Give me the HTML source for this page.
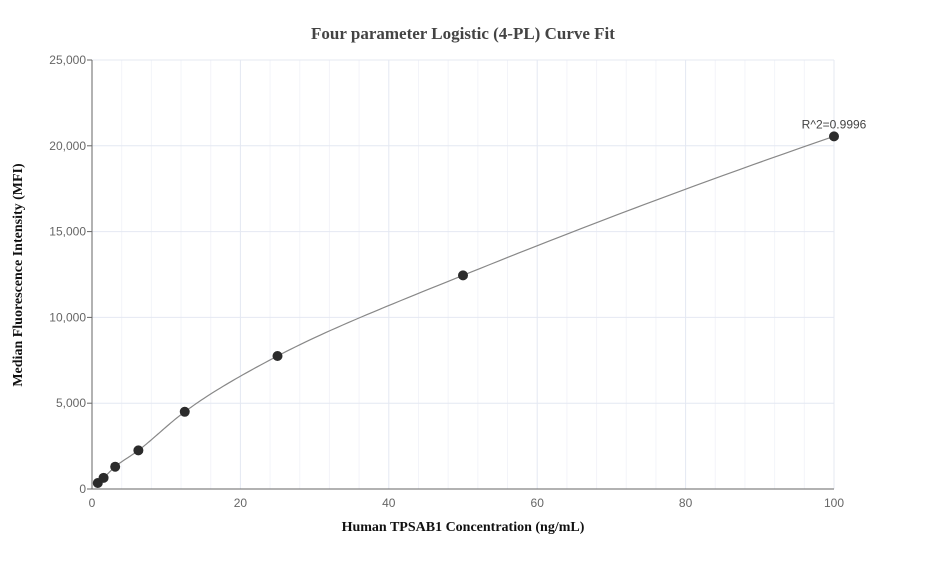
<!DOCTYPE html>
<html><head><meta charset="utf-8"><style>
body{margin:0;background:#fff;font-family:"Liberation Sans",sans-serif}
</style></head><body>
<svg id="chart" width="927" height="560" xmlns="http://www.w3.org/2000/svg">
<text x="463" y="39" text-anchor="middle" font-family="Liberation Serif" font-weight="bold" font-size="17" fill="#444">Four parameter Logistic (4-PL) Curve Fit</text>
<text x="463" y="531" text-anchor="middle" font-family="Liberation Serif" font-weight="bold" font-size="14" fill="#111">Human TPSAB1 Concentration (ng/mL)</text>
<text transform="translate(22,275) rotate(-90)" text-anchor="middle" font-family="Liberation Serif" font-weight="bold" font-size="14" fill="#111">Median Fluorescence Intensity (MFI)</text>
<g id="grid"></g><g id="axes"></g><g id="marks"></g>
</svg>
<script>
const xTicks=[0,20,40,60,80,100];
const yTicks=[0,5000,10000,15000,20000,25000];
const yLabels=["0","5,000","10,000","15,000","20,000","25,000"];
const conc=[0.78,1.56,3.125,6.25,12.5,25,50,100];
const mfi=[350,650,1300,2250,4500,7750,12450,20550];
const r2Label="R^2=0.9996";
const NS="http://www.w3.org/2000/svg";
const X0=92,X1=834,Y0=489,Y1=60;
const sx=v=>X0+(v-0)/(100-0)*(X1-X0);
const sy=v=>Y0-(v/25000)*(Y0-Y1);
function mk(tag,attrs,parent){const e=document.createElementNS(NS,tag);for(const k in attrs)e.setAttribute(k,attrs[k]);parent.appendChild(e);return e;}
const grid=document.getElementById('grid'),axes=document.getElementById('axes'),marks=document.getElementById('marks');
for(let v=4;v<100;v+=4){if(v%20===0)continue;
const l=mk('line',{x1:sx(v),x2:sx(v),y1:Y1,y2:Y0,stroke:'#f3f4f9'},grid);

}
xTicks.forEach(v=>{if(v>0){const l=mk('line',{x1:sx(v),x2:sx(v),y1:Y1,y2:Y0,stroke:'#e4e8f2'},grid);

}
const t=mk('text',{x:sx(v),y:Y0+18,'text-anchor':'middle','font-size':12,fill:'#666'},axes);t.textContent=v;

});
yTicks.forEach((v,i)=>{if(v>0){const l=mk('line',{x1:X0,x2:X1,y1:sy(v),y2:sy(v),stroke:'#e4e8f2'},grid);

}
mk('line',{x1:X0-5,x2:X0,y1:sy(v),y2:sy(v),stroke:'#666'},axes);
const t=mk('text',{x:X0-6,y:sy(v)+4,'text-anchor':'end','font-size':12,fill:'#666'},axes);t.textContent=yLabels[i];

});
const ya=mk('line',{x1:X0,x2:X0,y1:Y1,y2:Y0,stroke:'#666'},axes);


const xa=mk('line',{x1:X0,x2:X1,y1:Y0,y2:Y0,stroke:'#666'},axes);


// smooth curve: cubic Hermite in (log x, log y) space, sampled
const lx=conc.map(Math.log),ly=mfi.map(Math.log),n=conc.length;
const m=lx.map((_,i)=>{const a=Math.max(0,i-1),b=Math.min(n-1,i+1);return (ly[b]-ly[a])/(lx[b]-lx[a]);});
let d='';
for(let i=0;i<n-1;i++){const h=lx[i+1]-lx[i];
for(let k=0;k<=30;k++){const t=k/30,t2=t*t,t3=t2*t;
const yv=(2*t3-3*t2+1)*ly[i]+(t3-2*t2+t)*h*m[i]+(-2*t3+3*t2)*ly[i+1]+(t3-t2)*h*m[i+1];
const xv=Math.exp(lx[i]+t*h);
d+=(d?' L':'M')+sx(xv).toFixed(2)+','+sy(Math.exp(yv)).toFixed(2);}}
const c=mk('path',{d:d,fill:'none',stroke:'#888','stroke-width':1.2},marks);


conc.forEach((cv,i)=>{const e=mk('circle',{cx:sx(cv),cy:sy(mfi[i]),r:5,fill:'#2b2b2b'},marks);

});
const r=mk('text',{x:sx(conc[n-1]),y:sy(mfi[n-1])-8,'text-anchor':'middle','font-size':12,fill:'#444'},marks);r.textContent=r2Label;


</script>
</body></html>
